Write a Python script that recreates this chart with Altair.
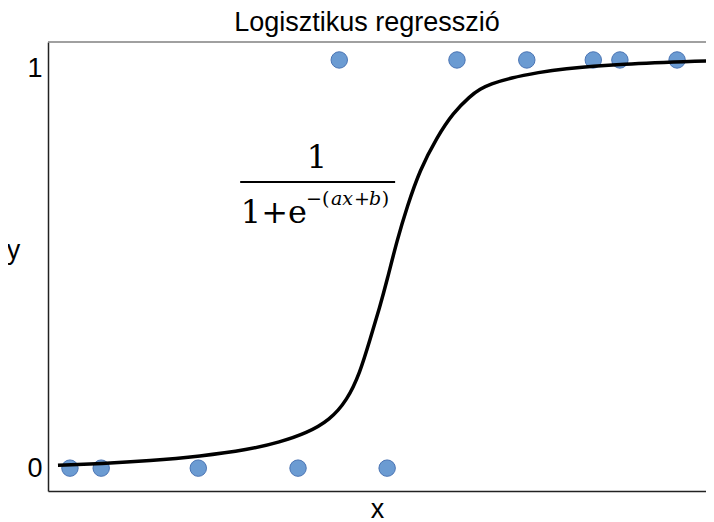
import altair as alt
import pandas as pd

# observed points (x in chart units, y = 0/1)
pt_x = [3.3, 8.0, 22.6, 37.6, 51.0, 43.8, 61.5, 72.0, 82.0, 86.0, 94.6]
pt_y = [0, 0, 0, 0, 0, 1, 1, 1, 1, 1, 1]

# fitted curve
cx = [1.5, 8.0, 15.3, 22.9, 30.1, 34.9, 38.9, 42.4, 45.0, 46.9, 48.4, 49.9,
      51.0, 52.5, 54.0, 55.9, 58.5, 60.9, 63.5, 65.0, 66.5, 69.5, 74.0, 77.0,
      86.0, 99.5]
cy = [0.007, 0.011, 0.018, 0.029, 0.045, 0.064, 0.086, 0.118, 0.167, 0.233,
      0.314, 0.395, 0.461, 0.559, 0.640, 0.730, 0.811, 0.870, 0.912, 0.929,
      0.941, 0.956, 0.970, 0.978, 0.990, 0.998]

# formula annotation pieces
num_text, num_x, num_y = ["1"], [40.45], [0.735]
den_text, den_x, den_y = ["1+e"], [29.0], [0.600]
sup_up_text = ["−(", "+", ")"]
sup_up_x = [38.8, 46.0, 50.2]
sup_it_text = ["ax", "b"]
sup_it_x = [42.56, 48.27]
sup_y = 0.645
bar_x, bar_x2, bar_y = [28.9], [52.2], [0.701]

X_DOM = [0, 98.95]
Y_DOM = [-0.056, 1.044]

pts = pd.DataFrame({"x": pt_x, "y": pt_y})
curve = pd.DataFrame({"x": cx, "y": cy})
num = pd.DataFrame({"x": num_x, "y": num_y, "t": num_text})
den = pd.DataFrame({"x": den_x, "y": den_y, "t": den_text})
supu = pd.DataFrame({"x": sup_up_x, "y": [sup_y] * 3, "t": sup_up_text})
supi = pd.DataFrame({"x": sup_it_x, "y": [sup_y] * 2, "t": sup_it_text})
bar = pd.DataFrame({"x": bar_x, "x2": bar_x2, "y": bar_y})

xs = alt.Scale(domain=X_DOM, nice=False, zero=False)
ys = alt.Scale(domain=Y_DOM, nice=False, zero=False)

xax = alt.Axis(title="x", labels=False, ticks=False, grid=False,
               titleFontSize=27, titleFont="Liberation Sans", titleFontWeight="normal",
               titleColor="black", titleBaseline="alphabetic", titleY=26)
yax = alt.Axis(title="y", values=[0, 0.98], ticks=False, grid=False,
               labelExpr="datum.value > 0.5 ? '1' : '0'",
               labelFontSize=27, labelFont="Liberation Sans", labelColor="black",
               labelPadding=6, titleFontSize=27, titleFont="Liberation Sans",
               titleFontWeight="normal", titleColor="black", titleAngle=0,
               titleX=-35, titleY=208, titleAlign="center", titleBaseline="middle")

points = alt.Chart(pts).mark_circle(size=270, color="#6b9bd2", opacity=1,
                                    stroke="#4a74b4", strokeWidth=1).encode(
    x=alt.X("x:Q", scale=xs, axis=xax),
    y=alt.Y("y:Q", scale=ys, axis=yax),
)

line = alt.Chart(curve).mark_line(color="black", strokeWidth=3.5,
                                  interpolate="basis", clip=True).encode(
    x=alt.X("x:Q", scale=xs), y=alt.Y("y:Q", scale=ys))

SERIF = "DejaVu Serif"
t_one = alt.Chart(num).mark_text(font=SERIF, fontSize=32, color="black",
                                 baseline="alphabetic", align="center").encode(
    x=alt.X("x:Q", scale=xs), y=alt.Y("y:Q", scale=ys), text="t:N")
t_den = alt.Chart(den).mark_text(font=SERIF, fontSize=32, color="black",
                                 baseline="alphabetic", align="left").encode(
    x=alt.X("x:Q", scale=xs), y=alt.Y("y:Q", scale=ys), text="t:N")
t_su = alt.Chart(supu).mark_text(font=SERIF, fontSize=19, color="black",
                                 baseline="alphabetic", align="left").encode(
    x=alt.X("x:Q", scale=xs), y=alt.Y("y:Q", scale=ys), text="t:N")
t_si = alt.Chart(supi).mark_text(font=SERIF, fontSize=19, color="black",
                                 baseline="alphabetic", align="left",
                                 fontStyle="italic").encode(
    x=alt.X("x:Q", scale=xs), y=alt.Y("y:Q", scale=ys), text="t:N")
r_bar = alt.Chart(bar).mark_rule(color="black", strokeWidth=2).encode(
    x=alt.X("x:Q", scale=xs), x2="x2:Q", y=alt.Y("y:Q", scale=ys))

# thin grey top frame line
top_frame = alt.Chart(pd.DataFrame({"k": [0]})).mark_rule(
    color="#808080", strokeWidth=1.5).encode(
    x=alt.value(0), x2=alt.value(658), y=alt.value(0))

chart = alt.layer(top_frame, points, line, r_bar, t_one, t_den, t_su, t_si).properties(
    width=658, height=449,
    title=alt.TitleParams("Logisztikus regresszió", font="Liberation Sans",
                          fontSize=27, fontWeight="normal", color="black",
                          offset=4, dx=-10),
    autosize=alt.AutoSizeParams(type="none"),
    padding={"left": 40, "top": 34, "right": 0, "bottom": 31},
).configure_view(stroke=None).configure_axis(
    domainColor="#222222", domainWidth=1.5)

chart.save("out.html", embed_options={"renderer": "svg", "actions": False})
